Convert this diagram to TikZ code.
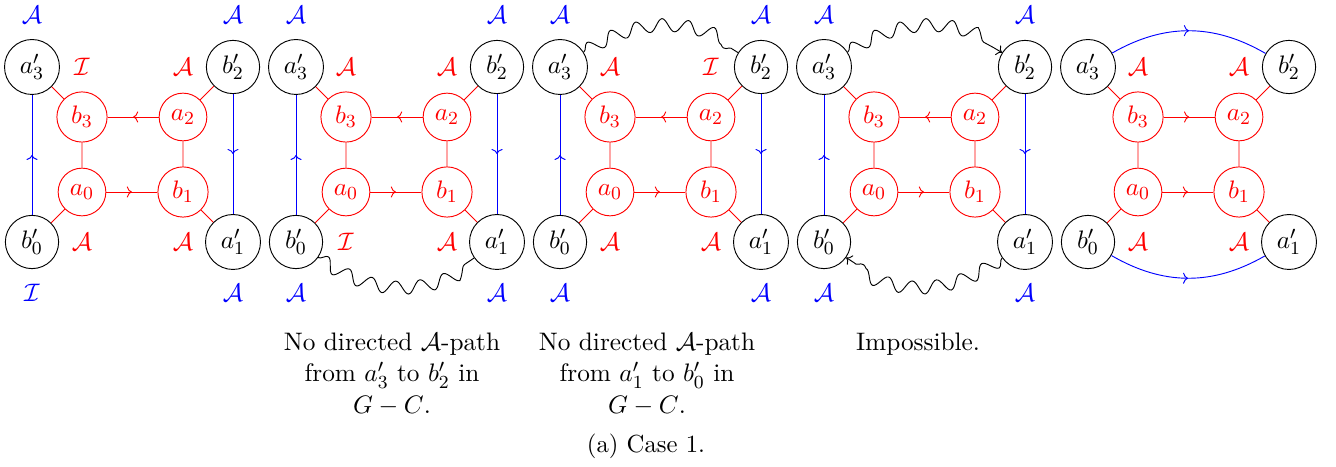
\documentclass[tikz,border=0pt]{standalone}
\usetikzlibrary{decorations.pathmorphing,decorations.markings,arrows.meta}
\newcommand\mypanel[2]{%
  \node[vout] (#1a3) at (#2+32,67) {$a'_3$};
  \node[vout] (#1b2) at (#2+233,67) {$b'_2$};
  \node[vout] (#1b0) at (#2+32,242) {$b'_0$};
  \node[vout] (#1a1) at (#2+233,242) {$a'_1$};
  \node[vin] (#1b3) at (#2+82,117) {$b_3$};
  \node[vin] (#1a2) at (#2+183,117) {$a_2$};
  \node[vin] (#1a0) at (#2+82,192) {$a_0$};
  \node[vin] (#1b1) at (#2+183,192) {$b_1$};
  \draw[redge] (#1a3)--(#1b3) (#1b3)--(#1a0) (#1a2)--(#1b1) (#1b2)--(#1a2) (#1a0)--(#1b0) (#1b1)--(#1a1);
  \draw[redge,midarrow] (#1a0)--(#1b1);
}
\newcommand\redlabels[5]{%
  \node[rlab] (#1rl1) at (#2+82,67) {$\mathcal{#3}$};
  \node[rlab] (#1rl2) at (#2+183,67) {$\mathcal{#4}$};
  \node[rlab] (#1rl3) at (#2+82,242) {$\mathcal{#5}$};
}
\newcommand\bluelabels[6]{%
  \node[blab] (#1bl1) at (#2+32,15) {$\mathcal{#3}$};
  \node[blab] (#1bl2) at (#2+233,15) {$\mathcal{#4}$};
  \node[blab] (#1bl3) at (#2+32,293) {$\mathcal{#5}$};
  \node[blab] (#1bl4) at (#2+233,293) {$\mathcal{#6}$};
}
\begin{document}
\begin{tikzpicture}[x={(0.433pt,0)},y={(0,-0.433pt)},
  every node/.style={font=\fontsize{10.95}{13.8}\selectfont},
  vout/.style={circle,draw=black,text=black,inner sep=3pt},
  vin/.style={circle,draw=red,text=red,inner sep=3pt},
  redge/.style={draw=red},
  bedge/.style={draw=blue},
  midarrow/.style={postaction={decorate,decoration={markings,mark=at position 0.5 with {\arrow{To[length=2.2pt,width=4.8pt]}}}}},
  wavy/.style={decorate,decoration={snake,amplitude=2.8pt,segment length=11pt}},
  wavyarrow/.style={-{To[length=2.2pt,width=4.8pt]},decorate,decoration={snake,amplitude=2.8pt,segment length=11pt,post length=1.5mm}},
  rlab/.style={text=red},
  blab/.style={text=blue},
  txt/.style={align=center,anchor=north,inner sep=0pt}]
\useasboundingbox (0,0) rectangle (1336,467);

% panel 1
\mypanel{p1}{0}
\draw[redge,midarrow] (p1a2)--(p1b3);
\draw[bedge,midarrow] (p1b0)--(p1a3);
\draw[bedge,midarrow] (p1b2)--(p1a1);
\redlabels{p1}{0}{I}{A}{A}
\node[rlab] (p1rl4) at (183,242) {$\mathcal{A}$};
\bluelabels{p1}{0}{A}{A}{I}{A}

% panel 2
\mypanel{p2}{264}
\draw[redge,midarrow] (p2a2)--(p2b3);
\draw[bedge,midarrow] (p2b0)--(p2a3);
\draw[bedge,midarrow] (p2b2)--(p2a1);
\redlabels{p2}{264}{A}{A}{I}
\node[rlab] (p2rl4) at (264+183,242) {$\mathcal{A}$};
\bluelabels{p2}{264}{A}{A}{A}{A}
\draw[wavy] (p2b0) to[bend right=35] (p2a1);

% panel 3
\mypanel{p3}{528}
\draw[redge,midarrow] (p3a2)--(p3b3);
\draw[bedge,midarrow] (p3b0)--(p3a3);
\draw[bedge,midarrow] (p3b2)--(p3a1);
\redlabels{p3}{528}{A}{I}{A}
\node[rlab] (p3rl4) at (528+183,242) {$\mathcal{A}$};
\bluelabels{p3}{528}{A}{A}{A}{A}
\draw[wavy] (p3a3) to[bend left=32] (p3b2);

% panel 4
\mypanel{p4}{792}
\draw[redge,midarrow] (p4a2)--(p4b3);
\draw[bedge,midarrow] (p4b0)--(p4a3);
\draw[bedge,midarrow] (p4b2)--(p4a1);
\bluelabels{p4}{792}{A}{A}{A}{A}
\draw[wavyarrow] (p4a3) to[bend left=32] (p4b2);
\draw[wavyarrow] (p4a1) to[bend left=35] (p4b0);

% panel 5
\mypanel{p5}{1056}
\draw[redge,midarrow] (p5b3)--(p5a2);
\redlabels{p5}{1056}{A}{A}{A}
\node[rlab] (p5rl4) at (1056+183,242) {$\mathcal{A}$};
\draw[bedge,midarrow] (p5a3) to[bend left=30] (p5b2);
\draw[bedge,midarrow] (p5b0) to[bend right=30] (p5a1);

% texts
\node[txt] (t2) at (392,332) {No directed $\mathcal{A}$-path\\from $a'_3$ to $b'_2$ in\\$G-C$.};
\node[txt] (t3) at (647,332) {No directed $\mathcal{A}$-path\\from $a'_1$ to $b'_0$ in\\$G-C$.};
\node[txt] (t4) at (918,332) {Impossible.};
\node[anchor=base,inner sep=0pt,font=\fontsize{10.7}{12.8}\selectfont] (cap) at (646,453) {(a) Case 1.};
\end{tikzpicture}
\end{document}
